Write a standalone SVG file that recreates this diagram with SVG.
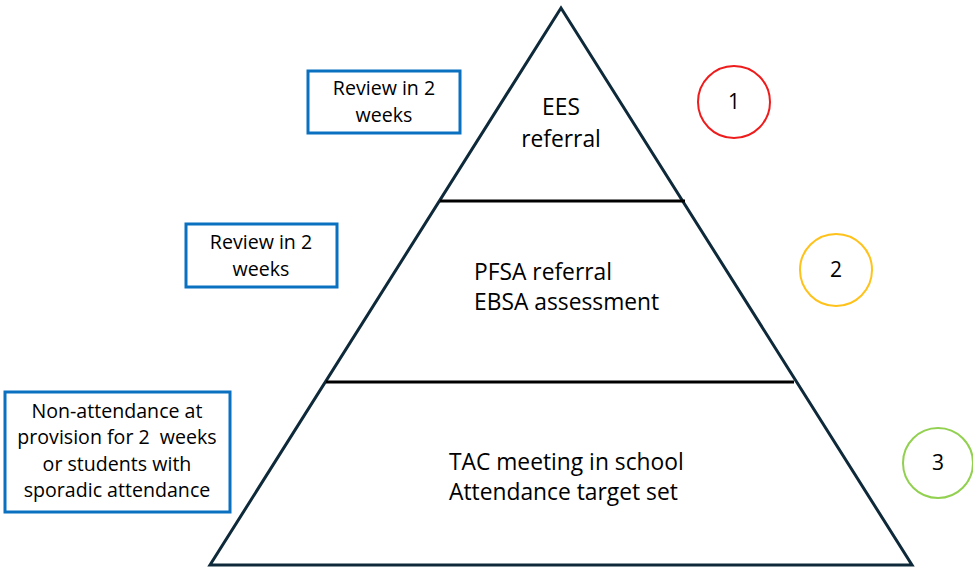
<svg xmlns="http://www.w3.org/2000/svg" width="973" height="569" viewBox="0 0 973 569">
  <style>
    .tri { fill: none; stroke: #0e2a3a; stroke-width: 3; stroke-linejoin: miter; }
    .tier { stroke: #000; stroke-width: 3; }
    .box { fill: #fff; stroke: #0a70c0; stroke-width: 3; }
    .lbl { font-family: "Open Sans", "Liberation Sans", Arial, sans-serif; fill: #000; white-space: pre; }
    .tbox { font-size: 19.6px; text-anchor: middle; }
    .tpyr { font-size: 22.8px; }
    .num { font-size: 21px; text-anchor: middle; }
    .ring { fill: none; stroke-width: 2; }
  </style>
  <rect width="973" height="569" fill="#fff"/>

  <g id="pyramid">
    <polygon class="tri" points="561,8 210,565 912,565"/>
  </g>

  <g id="tiers">
    <line class="tier" x1="440" y1="201" x2="685" y2="201"/>
    <line class="tier" x1="326" y1="382" x2="794" y2="382"/>
  </g>

  <g id="tier-top">
    <text class="lbl tpyr" x="561" y="115" text-anchor="middle">EES</text>
    <text class="lbl tpyr" x="561" y="147" text-anchor="middle">referral</text>
  </g>
  <g id="tier-middle">
    <text class="lbl tpyr" x="474" y="280">PFSA referral</text>
    <text class="lbl tpyr" x="474" y="310">EBSA assessment</text>
  </g>
  <g id="tier-bottom">
    <text class="lbl tpyr" x="449" y="470">TAC meeting in school</text>
    <text class="lbl tpyr" x="449" y="500">Attendance target set</text>
  </g>

  <g id="note-1">
    <rect class="box" x="308" y="71" width="152" height="62"/>
    <text class="lbl tbox" x="384" y="95">Review in 2</text>
    <text class="lbl tbox" x="384" y="122">weeks</text>
  </g>
  <g id="note-2">
    <rect class="box" x="186" y="224" width="151" height="63"/>
    <text class="lbl tbox" x="261" y="249">Review in 2</text>
    <text class="lbl tbox" x="261" y="276">weeks</text>
  </g>
  <g id="note-3">
    <rect class="box" x="5" y="392" width="225" height="120"/>
    <text class="lbl tbox" x="117" y="418">Non-attendance at</text>
    <text class="lbl tbox" x="117" y="444">provision for 2  weeks</text>
    <text class="lbl tbox" x="117" y="471">or students with</text>
    <text class="lbl tbox" x="117" y="497">sporadic attendance</text>
  </g>

  <g id="level-1">
    <circle class="ring" cx="734" cy="102" r="36" stroke="#ee1c1c"/>
    <text class="lbl num" x="734" y="109">1</text>
  </g>
  <g id="level-2">
    <circle class="ring" cx="836" cy="270" r="36" stroke="#ffc21a"/>
    <text class="lbl num" x="836" y="277">2</text>
  </g>
  <g id="level-3">
    <circle class="ring" cx="938" cy="463" r="35" stroke="#92d050"/>
    <text class="lbl num" x="938" y="470">3</text>
  </g>
</svg>
